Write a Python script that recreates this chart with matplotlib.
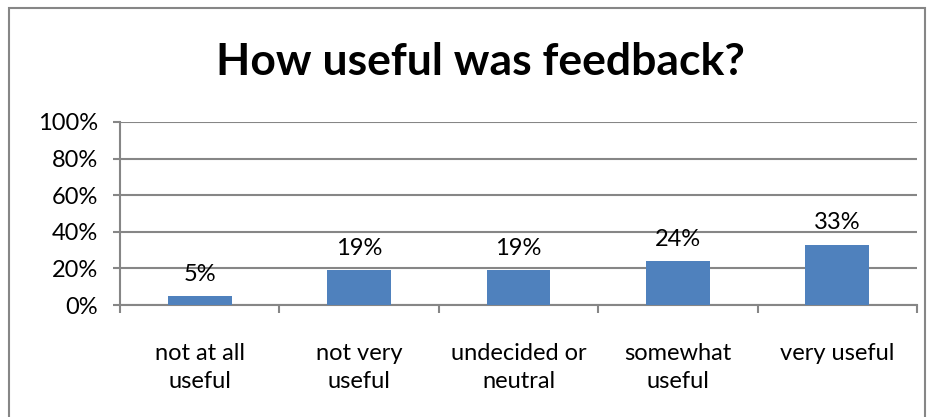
import matplotlib.pyplot as plt
from matplotlib.patches import Rectangle

# chart data
categories = ["not at all\nuseful", "not very\nuseful", "undecided or\nneutral",
              "somewhat\nuseful", "very useful"]
values = [5, 19, 19, 24, 33]
y_ticks = [0, 20, 40, 60, 80, 100]
y_tick_labels = ["0%", "20%", "40%", "60%", "80%", "100%"]

plt.rcParams['font.family'] = ['Lato', 'DejaVu Sans']
grey = "#868686"
bar_color = "#4F81BD"

fig = plt.figure(figsize=(9.34, 4.17), dpi=100)
ax = fig.add_axes([120 / 934, 1 - 305 / 417, (917 - 120) / 934, (305 - 122) / 417])

# outer chart border like excel
fig.patches.append(Rectangle((9 / 934, -0.1), (925 - 9) / 934, 1.1 - 8 / 417,
                             transform=fig.transFigure, fill=False,
                             edgecolor=grey, linewidth=1.5))

x = list(range(len(categories)))
bars = ax.bar(x, values, width=0.4, color=bar_color, zorder=3)
for xi, v in zip(x, values):
    ax.annotate(f"{v}%", (xi, v), xytext=(0, 8), textcoords="offset points",
                ha="center", va="bottom", fontsize=17)

ax.set_ylim(0, 100)
ax.set_xlim(-0.5, len(categories) - 0.5)
ax.set_yticks(y_ticks)
ax.set_yticklabels(y_tick_labels, fontsize=17)
ax.yaxis.grid(True, color=grey, linewidth=1.5, zorder=0)
ax.tick_params(axis="y", length=5, color=grey, width=1.5, pad=11)

ax.set_xticks(x)
ax.set_xticklabels(categories, fontsize=17, linespacing=1.45)
ax.tick_params(axis="x", which="major", length=0, pad=27)
ax.set_xticks([i - 0.5 for i in range(len(categories) + 1)], minor=True)
ax.tick_params(axis="x", which="minor", length=6, color=grey, width=1.5)

for side in ["top", "right"]:
    ax.spines[side].set_visible(False)
for side in ["left", "bottom"]:
    ax.spines[side].set_color(grey)
    ax.spines[side].set_linewidth(1.5)

fig.text(480 / 934, 1 - 62 / 417, "How useful was feedback?", ha="center", va="center",
         fontsize=32, fontweight="bold")

fig.savefig("out.png", dpi=100)
